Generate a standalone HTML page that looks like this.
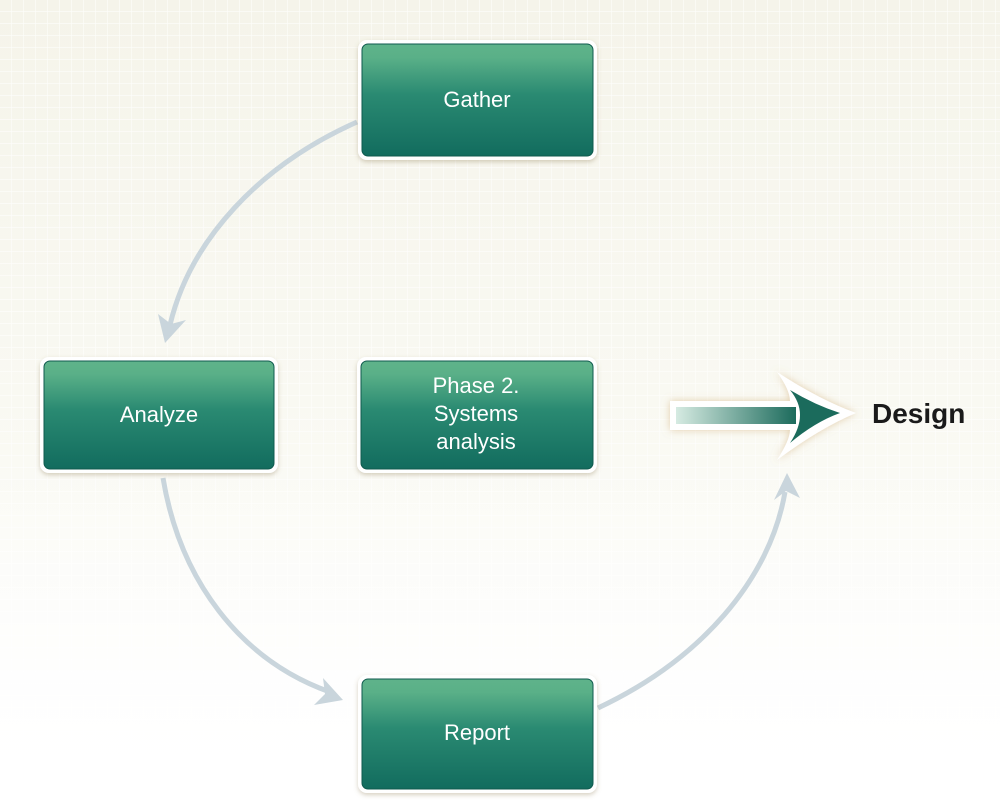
<!DOCTYPE html>
<html><head><meta charset="utf-8"><style>
html,body{margin:0;padding:0}
body{width:1000px;height:806px;overflow:hidden;font-family:"Liberation Sans",sans-serif}
</style></head><body>
<svg width="1000" height="806" viewBox="0 0 1000 806" xmlns="http://www.w3.org/2000/svg">
<defs>
<linearGradient id="bg" x1="0" y1="0" x2="0" y2="1">
<stop offset="0" stop-color="#f5f4ea"/><stop offset="0.6" stop-color="#fafaf4"/><stop offset="1" stop-color="#ffffff"/>
</linearGradient>
<pattern id="grid" width="12" height="12" patternUnits="userSpaceOnUse">
<path d="M12 0V12M0 12H12" stroke="#ffffff" stroke-width="1.2" fill="none" opacity="0.8"/>
</pattern>
<linearGradient id="fade" x1="0" y1="0" x2="0" y2="1">
<stop offset="0" stop-color="#fff" stop-opacity="0"/><stop offset="0.55" stop-color="#fff" stop-opacity="0"/><stop offset="1" stop-color="#fff" stop-opacity="1"/>
</linearGradient>
<linearGradient id="box" x1="0" y1="0" x2="0" y2="1">
<stop offset="0" stop-color="#5fb38a"/><stop offset="0.12" stop-color="#5ab088"/><stop offset="0.45" stop-color="#2a8a72"/><stop offset="1" stop-color="#126c5e"/>
</linearGradient>
<linearGradient id="shaft" x1="0" y1="0" x2="1" y2="0">
<stop offset="0" stop-color="#d6ebe2"/><stop offset="1" stop-color="#1c6b5c"/>
</linearGradient>
<filter id="sh" x="-10%" y="-10%" width="120%" height="130%">
<feDropShadow dx="0" dy="2" stdDeviation="2.5" flood-color="#8a7a50" flood-opacity="0.35"/>
</filter>
<filter id="glow" x="-20%" y="-30%" width="140%" height="160%">
<feDropShadow dx="0" dy="0" stdDeviation="4" flood-color="#c9a060" flood-opacity="0.5"/>
</filter>
</defs>
<rect width="1000" height="806" fill="url(#bg)"/>
<rect width="1000" height="806" fill="url(#grid)"/>
<rect width="1000" height="806" fill="url(#fade)"/>

<g fill="none" stroke="#c9d5dc" stroke-width="5">
<path d="M357 122 C 260 165 190 240 170 325"/>
<path d="M163 478 C 180 580 240 660 330 692"/>
<path d="M598 708 C 700 660 770 580 785 492"/>
</g>
<g fill="#c9d5dc">
<path d="M165 343 L158 314 L171 324 L186 320 Z"/>
<path d="M343 700 L314 705 L325 694 L323 678 Z"/>
<path d="M787 473 L774 500 L786 491 L800 498 Z"/>
</g>

<g filter="url(#sh)">
<rect x="358" y="40" width="239" height="120" rx="9" fill="#fff"/>
<rect x="40" y="357" width="238" height="116" rx="9" fill="#fff"/>
<rect x="357" y="357" width="240" height="116" rx="9" fill="#fff"/>
<rect x="358" y="675" width="239" height="118" rx="9" fill="#fff"/>
</g>
<g fill="url(#box)" stroke="#0f5a4e" stroke-width="1">
<rect x="362" y="44" width="231" height="112" rx="6"/>
<rect x="44" y="361" width="230" height="108" rx="6"/>
<rect x="361" y="361" width="232" height="108" rx="6"/>
<rect x="362" y="679" width="231" height="110" rx="6"/>
</g>
<g fill="#ffffff" font-family="Liberation Sans, sans-serif" font-size="22" text-anchor="middle">
<text x="477" y="107">Gather</text>
<text x="159" y="422">Analyze</text>
<text x="476" y="393">Phase 2.</text>
<text x="476" y="421">Systems</text>
<text x="476" y="449">analysis</text>
<text x="477" y="740">Report</text>
</g>

<g filter="url(#glow)">
<path d="M670 401 L790 401 Q790 390 777 372 Q820 400 856 413 Q820 428 777 460 Q790 440 790 430 L670 430 Z" fill="#fff"/>
</g>
<rect x="676" y="407" width="120" height="17" fill="url(#shaft)"/>
<path d="M790 390 Q815 405 840 413 Q815 422 790 443 Q800 428 800 415 Q800 402 790 390 Z" fill="#1b6b5c"/>
<text x="872" y="423" font-family="Liberation Sans, sans-serif" font-weight="bold" font-size="28" fill="#1a1a1a">Design</text>
</svg>
</body></html>
